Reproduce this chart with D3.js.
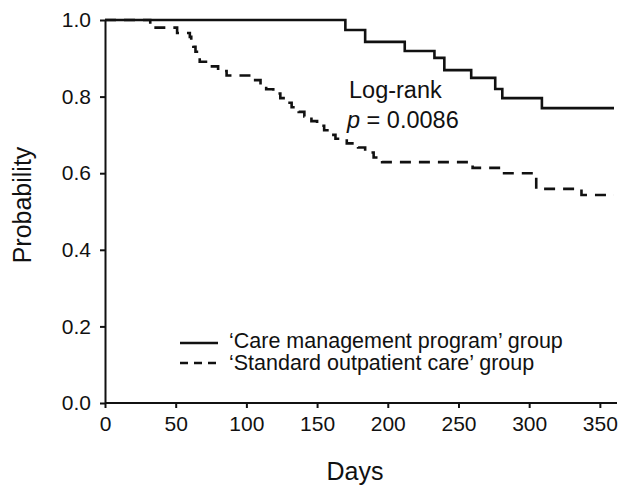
<!DOCTYPE html>
<html>
<head>
<meta charset="utf-8">
<script src="https://cdn.jsdelivr.net/npm/d3@7/dist/d3.min.js"></script>
<style>
  html, body { margin: 0; padding: 0; background: #fff; }
  svg { display: block; }
  text { font-family: "Liberation Sans", Arial, Helvetica, sans-serif; fill: #111; }
</style>
</head>
<body>
<svg id="chart" width="633" height="490"></svg>
<script>
// ---- Data ----
const careDays = [0, 170, 184, 212, 233, 240, 259, 276, 281, 309, 360];
const careSurv = [1.0, 0.974, 0.943, 0.919, 0.901, 0.869, 0.849, 0.820, 0.796, 0.770, 0.770];

const stdDays = [0, 32, 51, 60, 61, 62.5, 64, 66, 67, 74, 80, 86, 105, 110, 114, 119, 124,
                 128, 132, 137, 141, 146, 150, 155, 159, 163, 171, 179, 184, 190, 196,
                 260, 281, 305, 337, 360];
const stdSurv = [1.0, 0.980, 0.966, 0.956, 0.943, 0.930, 0.917, 0.904, 0.891, 0.879, 0.867, 0.855,
                 0.843, 0.831, 0.819, 0.808, 0.796,
                 0.784, 0.772, 0.760, 0.748, 0.736, 0.724, 0.712, 0.700, 0.690, 0.678,
                 0.667, 0.654, 0.641, 0.629,
                 0.614, 0.600, 0.559, 0.543, 0.543];

const xTicks = [0, 50, 100, 150, 200, 250, 300, 350];
const yTicks = [0.0, 0.2, 0.4, 0.6, 0.8, 1.0];

const seriesNames = ["\u2018Care management program\u2019 group", "\u2018Standard outpatient care\u2019 group"];
const xTitle = "Days";
const yTitle = "Probability";
const testLabel = "Log-rank";
const pValue = "0.0086";

// ---- Chart ----
const svg = d3.select("#chart");
const x = d3.scaleLinear().domain([0, 360]).range([105, 614]);
const y = d3.scaleLinear().domain([0, 1]).range([403, 20]);
const ink = "#111";

// axes
const xAxis = svg.append("g")
  .attr("transform", `translate(0,${y(0)})`)
  .call(d3.axisBottom(x).tickValues(xTicks).tickSize(5).tickSizeOuter(0).tickPadding(8));
const yAxis = svg.append("g")
  .attr("transform", `translate(${x(0)},0)`)
  .call(d3.axisLeft(y).tickValues(yTicks).tickFormat(d3.format(".1f")).tickSize(5).tickSizeOuter(0).tickPadding(9));

[xAxis, yAxis].forEach(g => {
  g.select(".domain").attr("stroke", ink).attr("stroke-width", 2);
  g.selectAll(".tick line").attr("stroke", ink).attr("stroke-width", 2);
  g.selectAll(".tick text")
    .attr("fill", ink)
    .style("font-family", '"Liberation Sans", Arial, sans-serif')
    .style("font-size", "21px");
});
// extend x axis line slightly past last value
xAxis.select(".domain").attr("d", `M${x(0)},0H${x(360) + 3}`);

// axis titles
svg.append("text")
  .attr("x", 355).attr("y", 480)
  .attr("text-anchor", "middle")
  .style("font-size", "25px")
  .text(xTitle);
svg.append("text")
  .attr("transform", `translate(31,205) rotate(-90)`)
  .attr("text-anchor", "middle")
  .style("font-size", "25px")
  .text(yTitle);

// curves
const line = d3.line()
  .x(d => x(d[0]))
  .y(d => y(d[1]))
  .curve(d3.curveStepAfter);

const careData = careDays.map((d, i) => [d, careSurv[i]]);
const stdData = stdDays.map((d, i) => [d, stdSurv[i]]);

svg.append("path")
  .datum(stdData)
  .attr("d", line)
  .attr("fill", "none")
  .attr("stroke", ink)
  .attr("stroke-width", 2.6)
  .attr("stroke-dasharray", "11,8");

svg.append("path")
  .datum(careData)
  .attr("d", line)
  .attr("fill", "none")
  .attr("stroke", ink)
  .attr("stroke-width", 2.6);

// annotation
svg.append("text")
  .attr("x", 349).attr("y", 98)
  .style("font-size", "23.5px")
  .text(testLabel);
const pt = svg.append("text")
  .attr("x", 347).attr("y", 128)
  .style("font-size", "23.5px");
pt.append("tspan").style("font-style", "italic").text("p");
pt.append("tspan").text(" = " + pValue);

// legend
const legend = svg.append("g");
const legendRows = [
  { name: seriesNames[0], dash: null, ly: 343, ty: 348 },
  { name: seriesNames[1], dash: "8,6", ly: 363, ty: 370 }
];
legendRows.forEach(r => {
  legend.append("line")
    .attr("x1", 180).attr("x2", 218)
    .attr("y1", r.ly).attr("y2", r.ly)
    .attr("stroke", ink)
    .attr("stroke-width", 2.6)
    .attr("stroke-dasharray", r.dash);
  legend.append("text")
    .attr("x", 229).attr("y", r.ty)
    .style("font-size", "21.5px")
    .text(r.name);
});
</script>
</body>
</html>
